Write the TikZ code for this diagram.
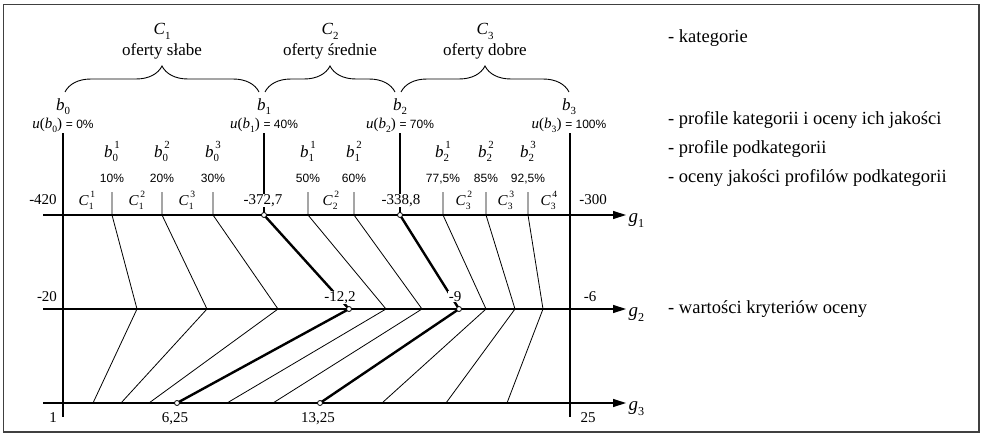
\documentclass[tikz,border=0pt]{standalone}
\usepackage{fontspec}
\setmainfont{Liberation Serif}
\setsansfont{Liberation Sans}
\usetikzlibrary{arrows.meta,decorations.pathreplacing}
\makeatletter
\newcommand\smallidx{\fontsize{\fpeval{0.64*\f@size}}{\fpeval{0.64*\f@size}}\selectfont}
\makeatother
\newcommand\Sb[2]{\textit{#1}\raisebox{-0.28em}{\smallidx #2}}
\newcommand\SbSp[3]{\textit{#1}\rlap{\raisebox{-0.28em}{\smallidx #2}}\raisebox{0.48em}{\smallidx\,#3}}
\begin{document}
\begin{tikzpicture}[x=1pt,y=-1pt,
  lbl/.style={inner sep=0.5pt, anchor=base},
  big/.style={font=\fontsize{17}{19}\selectfont},
  num/.style={font=\fontsize{15}{17}\selectfont},
  pct/.style={font=\sffamily\fontsize{12}{14}\selectfont},
  leg/.style={inner sep=0pt, anchor=base west, font=\fontsize{18.5}{21}\selectfont},
  wbg/.style={fill=white},
  bline/.style={line width=2.6pt},
  axisline/.style={line width=1.3pt, -{Triangle[length=13pt,width=8pt]}},
  thinline/.style={line width=0.8pt},
  thickline/.style={line width=2.4pt},
  brc/.style={line width=0.9pt, decorate, decoration={brace, amplitude=26pt}},
  circ/.style={circle, draw, fill=white, inner sep=0pt, minimum size=5pt, line width=0.8pt}
]
\useasboundingbox (0,0) rectangle (982,436);
\draw[line width=1.2pt, black!75] (3.5,4.5) rectangle (979,432);

% coordinates on axes
\foreach \i/\a/\m/\n in {1/112/137/93, 2/162/207/121, 3/213/278/149, 4/264/349/177,
  5/308/386/227, 6/354/422/273, 7/400/459/320, 8/443/486/382, 9/486/515/446, 10/528/543/507}{
  \coordinate (k\i) at (\a,192);
  \coordinate (p\i) at (\a,215);
  \coordinate (q\i) at (\m,309);
  \coordinate (r\i) at (\n,403);
}

% axes
\coordinate (g1s) at (43,215); \coordinate (g1e) at (626,215);
\coordinate (g2s) at (43,309); \coordinate (g2e) at (626,309);
\coordinate (g3s) at (43,403); \coordinate (g3e) at (626,403);
\draw[axisline] (g1s) -- (g1e);
\draw[axisline] (g2s) -- (g2e);
\draw[axisline] (g3s) -- (g3e);

% thin lines
\foreach \i in {1,2,3,5,6,8,9,10}{
  \draw[thinline] (k\i) -- (p\i) -- (q\i) -- (r\i);
}
% thick lines
\draw[thickline] (p4) -- (q4) -- (r4);
\draw[thickline] (p7) -- (q7) -- (r7);

% profile verticals
\coordinate (b0top) at (63,133); \coordinate (b0bot) at (63,417);
\coordinate (b1top) at (264,133);
\coordinate (b2top) at (400,133);
\coordinate (b3top) at (570,133); \coordinate (b3bot) at (570,417);
\draw[bline] (b0top) -- (b0bot);
\draw[bline] (b1top) -- (p4);
\draw[bline] (b2top) -- (p7);
\draw[bline] (b3top) -- (b3bot);

% braces
\draw[brc] (65,92) -- (259,92);
\draw[brc] (265,92) -- (395,92);
\draw[brc] (401,92) -- (569,92);

% category labels
\node[lbl,big] (c1) at (162,35) {\Sb{C}{1}};
\node[lbl,big] (c1t) at (162,56) {oferty słabe};
\node[lbl,big] (c2) at (330,35) {\Sb{C}{2}};
\node[lbl,big] (c2t) at (330,56) {oferty średnie};
\node[lbl,big] (c3) at (485,35) {\Sb{C}{3}};
\node[lbl,big] (c3t) at (485,56) {oferty dobre};

% profile labels
\node[lbl,big] (lb0) at (63,110) {\Sb{b}{0}};
\node[lbl,num] (ub0) at (63,128) {\textit{u}(\Sb{b}{0}) {\sffamily\fontsize{12}{14}\selectfont = 0\%}};
\node[lbl,big] (lb1) at (264,110) {\Sb{b}{1}};
\node[lbl,num] (ub1) at (264,128) {\textit{u}(\Sb{b}{1}) {\sffamily\fontsize{12}{14}\selectfont = 40\%}};
\node[lbl,big] (lb2) at (400,110) {\Sb{b}{2}};
\node[lbl,num] (ub2) at (400,128) {\textit{u}(\Sb{b}{2}) {\sffamily\fontsize{12}{14}\selectfont = 70\%}};
\node[lbl,big] (lb3) at (569,110) {\Sb{b}{3}};
\node[lbl,num] (ub3) at (569,128) {\textit{u}(\Sb{b}{3}) {\sffamily\fontsize{12}{14}\selectfont = 100\%}};

% sub-profile labels
\foreach \x/\s/\u/\p [count=\j] in {112/0/1/10\%, 162/0/2/20\%, 213/0/3/30\%,
  308/1/1/50\%, 354/1/2/60\%, 443/2/1/{77,5\%}, 486/2/2/85\%, 528/2/3/{92,5\%}}{
  \node[lbl,big] (sb\j) at (\x,157) {\SbSp{b}{\s}{\u}};
  \node[lbl,pct] (sp\j) at (\x,182) {\p};
}

% subcategory labels
\foreach \x/\s/\u [count=\j] in {87/1/1, 137/1/2, 187/1/3, 331/2/2, 464/3/2, 506/3/3, 549/3/4}{
  \node[lbl,num] (sc\j) at (\x,205) {\SbSp{C}{\s}{\u}};
}

% values
\node[lbl,num] (v420) at (43,204) {-420};
\node[lbl,num] (v300) at (593,204) {-300};
\node[lbl,num,wbg] (v3727) at (263,204) {-372,7};
\node[lbl,num,wbg] (v3388) at (401,204) {-338,8};
\node[lbl,num] (v20) at (47,301) {-20};
\node[lbl,num] (v6) at (590,301) {-6};
\node[lbl,num,wbg] (v122) at (340,301) {-12,2};
\node[lbl,num,wbg] (v9) at (455,301) {-9};
\node[lbl,num] (v1) at (53,422) {1};
\node[lbl,num] (v625) at (175,422) {6,25};
\node[lbl,num] (v1325) at (318,422) {13,25};
\node[lbl,num] (v25) at (588,422) {25};

% circles
\foreach \c in {p4,p7,q4,q7,r4,r7}{ \node[circ] (o\c) at (\c) {}; }

% axis names
\node[lbl,font=\fontsize{19}{21}\selectfont, anchor=base west] (ng1) at (628,222) {\Sb{g}{1}};
\node[lbl,font=\fontsize{19}{21}\selectfont, anchor=base west] (ng2) at (628,316) {\Sb{g}{2}};
\node[lbl,font=\fontsize{19}{21}\selectfont, anchor=base west] (ng3) at (628,410) {\Sb{g}{3}};

% legend
\node[leg] (l1) at (668,43) {- kategorie};
\node[leg] (l2) at (668,124) {- profile kategorii i oceny ich jakości};
\node[leg] (l3) at (668,153) {- profile podkategorii};
\node[leg] (l4) at (668,182) {- oceny jakości profilów podkategorii};
\node[leg] (l5) at (668,313) {- wartości kryteriów oceny};
\end{tikzpicture}
\end{document}
